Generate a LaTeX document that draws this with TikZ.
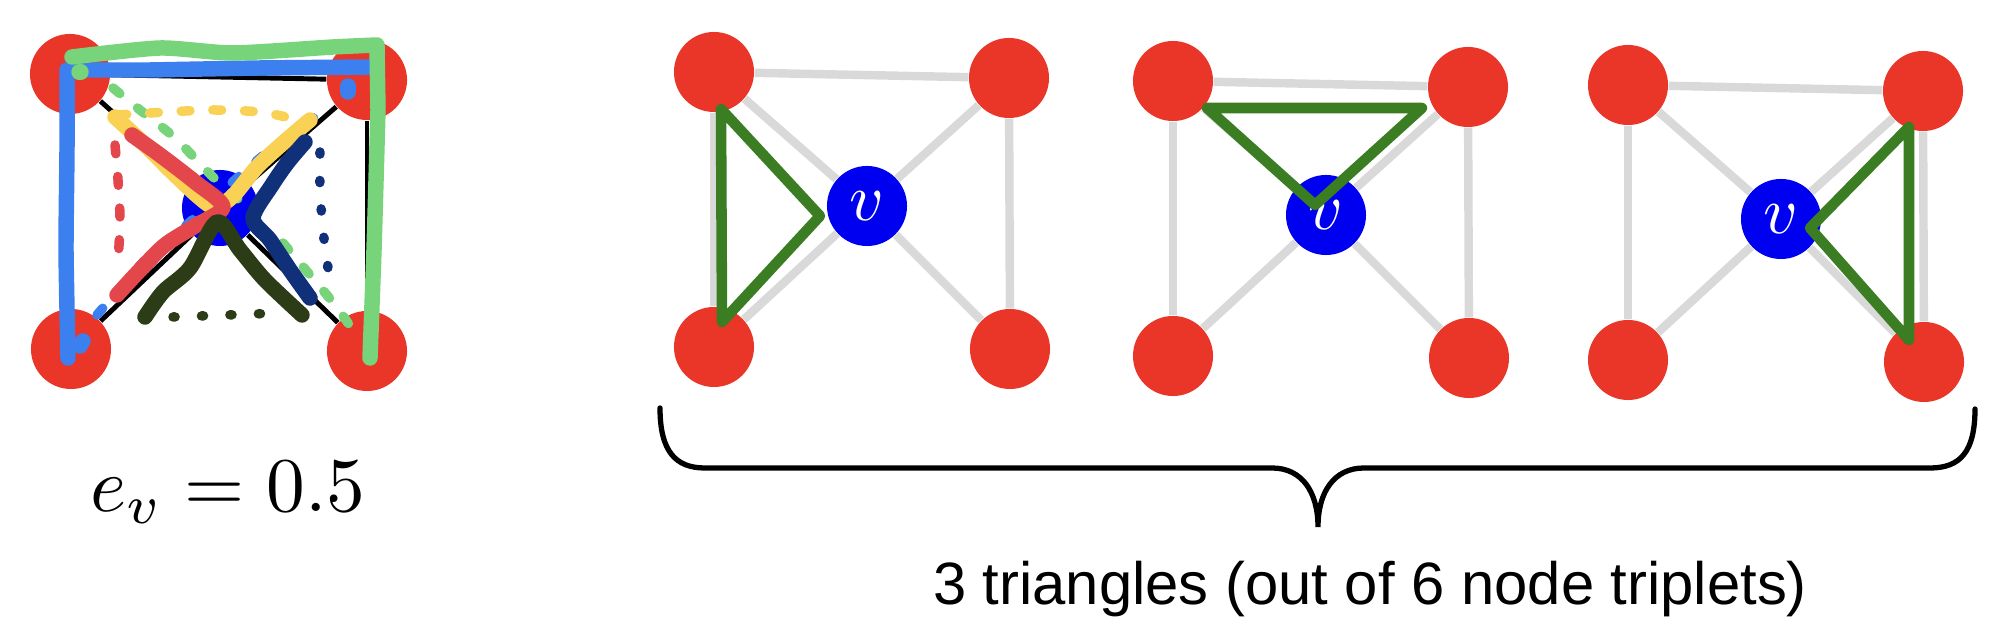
\documentclass[tikz,border=0pt]{standalone}
\usepackage{fontspec}
\usepackage{tikz}
\newfontfamily\captionsans{Liberation Sans}
\definecolor{nodered}{HTML}{E93628}
\definecolor{nodeblue}{HTML}{0000F0}
\definecolor{edgegray}{HTML}{D9D9D9}
\definecolor{tripgreen}{HTML}{3A7D22}
\definecolor{penlime}{HTML}{77D47B}
\definecolor{penblue}{HTML}{3C7FEE}
\definecolor{penyellow}{HTML}{F8D155}
\definecolor{penred}{HTML}{E3464B}
\definecolor{pennavy}{HTML}{11307A}
\definecolor{penolive}{HTML}{2C3C17}

\begin{document}
\begin{tikzpicture}[x=0.01cm,y=-0.01cm,
  rednode/.style={circle,fill=nodered,minimum size=0.8cm,inner sep=0pt},
  bluenode/.style={circle,fill=nodeblue,minimum size=0.8cm,inner sep=0pt},
  vlabel/.style={text=white,scale=1.9},
  blackedge/.style={line width=1.4pt},
  grayedge/.style={line width=2.4pt,draw=edgegray},
  tristroke/.style={line width=3pt,draw=tripgreen,line join=round,line cap=round},
  penstroke/.style={line width=4.4pt,line cap=round,line join=round},
  dashstroke/.style={line width=2.7pt,line cap=round,dash pattern=on 2.5pt off 6.5pt},
  dotstroke/.style={line width=2.7pt,line cap=round,dash pattern=on 0.6pt off 7.5pt}]
\useasboundingbox (0,0) rectangle (1996,628);

% hand-marked graph
\node[rednode] (a-tl) at (70,74) {};
\node[rednode] (a-tr) at (367,80) {};
\node[rednode] (a-bl) at (71,349) {};
\node[rednode] (a-br) at (367,351) {};
\node[bluenode,minimum size=0.76cm] (a-c) at (220,208) {};
\foreach \a/\b in {tl/tr,tl/bl,tr/br,tl/c,tr/c,bl/c,br/c}
  \draw[blackedge] (a-\a) -- (a-\b);

\draw[dashstroke,penblue] plot[smooth] coordinates {(97,315) (147,258) (190,222) (227,187) (270,150) (330,106)};
\draw[dashstroke,penlime] plot[smooth] coordinates {(113,88) (140,110) (175,138) (213,177) (245,205)};
\draw[dashstroke,penlime] plot[smooth] coordinates {(283,243) (310,275) (335,305) (355,333)};
\draw[dashstroke,penyellow] plot[smooth] coordinates {(118,115) (167,112) (213,110) (260,112) (290,118)};
\draw[dashstroke,penred] plot[smooth] coordinates {(115,145) (118,180) (120,220) (118,263)};
\draw[dotstroke,pennavy] plot[smooth] coordinates {(320,152) (320,190) (323,230) (328,268)};
\draw[dotstroke,penolive] (173,317) -- (280,313);

\draw[penstroke,penyellow] plot[smooth,tension=.5] coordinates {(115,117) (140,140) (173,173) (200,198) (215,207) (233,196) (257,167) (283,143) (310,120)};
\draw[penstroke,penred] plot[smooth,tension=.5] coordinates {(132,135) (160,155) (195,182) (223,207) (195,226) (165,245) (140,270) (117,295)};
\draw[penstroke,pennavy] plot[smooth,tension=.5] coordinates {(305,142) (288,162) (272,185) (253,218) (270,240) (290,270) (310,298)};
\draw[penstroke,penolive] plot[smooth,tension=.5] coordinates {(145,317) (163,292) (190,268) (217,222) (240,250) (265,280) (302,315)};

\draw[penstroke,penblue] plot[smooth,tension=.3] coordinates {(68,358) (66,250) (67,150) (67,70)} -- plot[smooth,tension=.3] coordinates {(150,70) (260,68) (370,67)};
\draw[penstroke,penblue] (348,86) -- (348,92);
\draw[penstroke,penblue] (80,346) -- (83,341);
\draw[penstroke,penlime] plot[smooth,tension=.4] coordinates {(72,57) (160,48) (233,53) (333,47) (377,45)} -- plot[smooth,tension=.3] coordinates {(378,110) (374,250) (370,358)};
\draw[penstroke,penlime] (79,72) -- (81,72);

\node[anchor=base,scale=2.2] (evalue) at (228,512) {$e_v = 0.5$};

% triangle panels
\foreach \i/\px/\py in {1/714/72,2/1173/81,3/1628/85} {
  \begin{scope}[shift={(\px,\py)}]
    \node[rednode] (tl\i) at (0,0) {};
    \node[rednode] (tr\i) at (295,6) {};
    \node[rednode] (bl\i) at (0,275) {};
    \node[rednode] (br\i) at (296,277) {};
    \node[bluenode] (v\i) at (153,134) {};
    \node[vlabel] at (v\i) {$v$};
    \foreach \a/\b in {tl/tr,tl/bl,tr/br,tl/v,tr/v,bl/v,br/v}
      \draw[grayedge] (\a\i) -- (\b\i);
  \end{scope}
}
\draw[tristroke] (721,109) -- (722,322) -- (820,216) -- cycle;
\draw[tristroke] (1207,108) -- (1422,108) -- (1315,205) -- cycle;
\draw[tristroke] (1909,127) -- (1909,340) -- (1810,228) -- cycle;

\draw[line width=1.5pt,line cap=round] (660,408) .. controls (660,452) and (676,468) .. (705,468) -- (1272,468) .. controls (1302,468) and (1318,492) .. (1318,527) .. controls (1318,492) and (1334,468) .. (1364,468) -- (1930,468) .. controls (1960,468) and (1975,452) .. (1975,409);
\node[anchor=base,font=\captionsans\fontsize{17}{20}\selectfont] (caption) at (1370,605) {3 triangles (out of 6 node triplets)};
\end{tikzpicture}
\end{document}
